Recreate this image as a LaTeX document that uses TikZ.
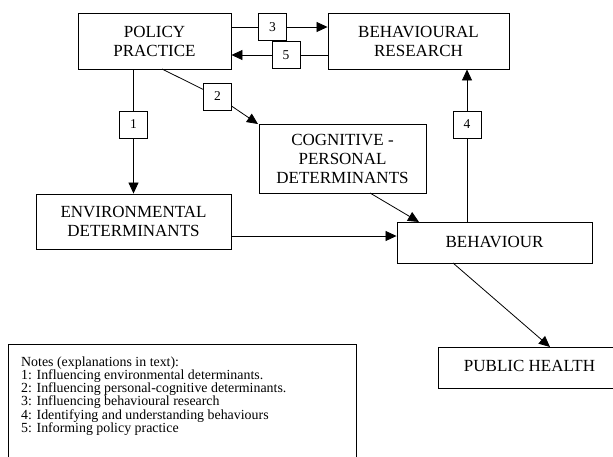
\documentclass[tikz,border=0pt]{standalone}
\usepackage{fontspec}
\setmainfont{Liberation Serif}
\usetikzlibrary{arrows.meta}
\newcommand\boxfont{\fontsize{17}{19}\selectfont}
\newcommand\notefont{\fontsize{13.9}{13.2}\selectfont}
\newcommand\digitfont{\fontsize{13.5}{14}\selectfont}
\begin{document}
\begin{tikzpicture}[x=1pt,y=1pt,
  bigbox/.style={draw,line width=0.9pt,inner sep=0pt,align=center,font=\boxfont},
  numbox/.style={draw,line width=0.9pt,fill=white,inner sep=0pt,minimum width=28pt,minimum height=27pt,font=\digitfont},
  conn/.style={line width=0.8pt},
  arr/.style={conn,-{Triangle[length=11pt,width=10pt]}}]
\useasboundingbox (0,0) rectangle (613,-456);
% main boxes
\node[bigbox,minimum width=153pt,minimum height=56pt] (pp) at (154.5,-41) {POLICY\\PRACTICE};
\node[bigbox,minimum width=181pt,minimum height=56pt] (br) at (418.5,-41) {BEHAVIOURAL\\RESEARCH};
\node[bigbox,minimum width=167pt,minimum height=69pt] (cog) at (342.5,-158.5) {COGNITIVE -\\PERSONAL\\DETERMINANTS};
\node[bigbox,minimum width=195pt,minimum height=55pt] (env) at (133.5,-221.5) {ENVIRONMENTAL\\DETERMINANTS};
\node[bigbox,minimum width=195pt,minimum height=41pt] (beh) at (494.5,-242.5) {\raisebox{2pt}{BEHAVIOUR}};
\node[bigbox,minimum width=183pt,minimum height=41pt] (ph) at (529.5,-367.5) {\raisebox{3pt}{PUBLIC HEALTH}};
% number boxes
\node[numbox] (b1) at (133.5,-124.5) {1};
\node[numbox] (b2) at (217.5,-96.5) {2};
\node[numbox] (b3) at (272.5,-27) {3};
\node[numbox] (b4) at (467,-124.5) {4};
\node[numbox] (b5) at (286,-55) {5};
% coordinates
\coordinate (c2s) at (162,-69);
\coordinate (c2e) at (258,-124);
\coordinate (cgo) at (370,-193);
\coordinate (bhi) at (419,-222);
\coordinate (bho) at (453,-263);
\coordinate (phi) at (550,-347);
\coordinate (eb) at (0,-236);
% connectors
\draw[conn] (pp.south -| b1.center) -- (b1.north);
\draw[arr] (b1.south) -- (env.north -| b1.center);
\draw[conn] (c2s) -- (b2);
\draw[arr] (b2) -- (c2e);
\draw[conn] (pp.east |- b3.center) -- (b3.west);
\draw[arr] (b3.east) -- (br.west |- b3.center);
\draw[conn] (br.west |- b5.center) -- (b5.east);
\draw[arr] (b5.west) -- (pp.east |- b5.center);
\draw[conn] (beh.north -| b4.center) -- (b4.south);
\draw[arr] (b4.north) -- (br.south -| b4.center);
\draw[arr] (cgo) -- (bhi);
\draw[arr] (env.east |- eb) -- (beh.west |- eb);
\draw[arr] (bho) -- (phi);
% notes
\draw[line width=0.9pt] (8,-344) rectangle (356,-470);
\node[anchor=north west,inner sep=0pt,align=left,font=\notefont] (notes) at (21,-356.5)
 {Notes (explanations in text):\\
  1: Influencing environmental determinants.\\
  2: Influencing personal-cognitive determinants.\\
  3: Influencing behavioural research\\
  4: Identifying and understanding behaviours\\
  5: Informing policy practice};
\end{tikzpicture}
\end{document}
